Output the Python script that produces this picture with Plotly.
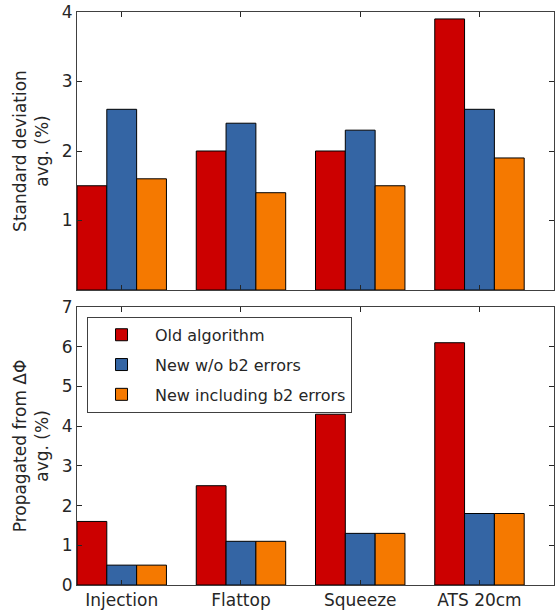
import plotly.graph_objects as go
from plotly.subplots import make_subplots

categories = ["Injection", "Flattop", "Squeeze", "ATS 20cm"]
series_names = ["Old algorithm", "New w/o b2 errors", "New including b2 errors"]
std_old = [1.5, 2.0, 2.0, 3.9]
std_new = [2.6, 2.4, 2.3, 2.6]
std_new_b2 = [1.6, 1.4, 1.5, 1.9]
prop_old = [1.6, 2.5, 4.3, 6.1]
prop_new = [0.5, 1.1, 1.3, 1.8]
prop_new_b2 = [0.5, 1.1, 1.3, 1.8]
colors = ["#CC0000", "#3465A4", "#F57900"]

top_vals = [std_old, std_new, std_new_b2]
bot_vals = [prop_old, prop_new, prop_new_b2]

fig = make_subplots(rows=2, cols=1, vertical_spacing=0.0296)

for i in range(3):
    fig.add_trace(go.Bar(x=categories, y=top_vals[i], name=series_names[i],
                         marker=dict(color=colors[i], line=dict(color="black", width=1)),
                         showlegend=False, legendgroup=f"g{i}"), row=1, col=1)
for i in range(3):
    fig.add_trace(go.Bar(x=categories, y=bot_vals[i], name=series_names[i],
                         marker=dict(color=colors[i], line=dict(color="black", width=1)),
                         showlegend=True, legendgroup=f"g{i}"), row=2, col=1)

font = dict(family="DejaVu Sans", size=17, color="#262626")
axcol = "#404040"
common_x = dict(range=[-0.375, 3.625], showline=True, linecolor=axcol, linewidth=1,
                mirror="ticks", ticks="inside", ticklen=5, tickcolor="#262626",
                showgrid=False, zeroline=False)
common_y = dict(showline=True, linecolor=axcol, linewidth=1, mirror="ticks",
                ticks="inside", ticklen=5, tickcolor="#262626", showgrid=False,
                zeroline=False)

fig.update_xaxes(**common_x, showticklabels=False, row=1, col=1)
fig.update_xaxes(**common_x, showticklabels=True, tickfont=font, row=2, col=1)
fig.update_yaxes(**common_y, range=[0, 4], tickvals=[1, 2, 3, 4], tickfont=font,
                 title=dict(text="Standard deviation<br>avg. (%)", font=font, standoff=8),
                 row=1, col=1)
fig.update_yaxes(**common_y, range=[0, 7], tickvals=list(range(8)), tickfont=font,
                 title=dict(text="Propagated from ΔΦ<br>avg. (%)", font=font, standoff=8),
                 row=2, col=1)

fig.update_layout(
    width=556, height=611,
    margin=dict(l=77, r=1, t=12, b=24),
    barmode="group", bargap=0.25, bargroupgap=0,
    plot_bgcolor="white", paper_bgcolor="white",
    font=font,
    legend=dict(x=0.021, y=0.468, xanchor="left", yanchor="top",
                bgcolor="white", bordercolor=axcol, borderwidth=1,
                font=dict(family="DejaVu Sans", size=16, color="#262626"),
                tracegroupgap=6, itemwidth=57),
)

fig.write_html("out.html")
